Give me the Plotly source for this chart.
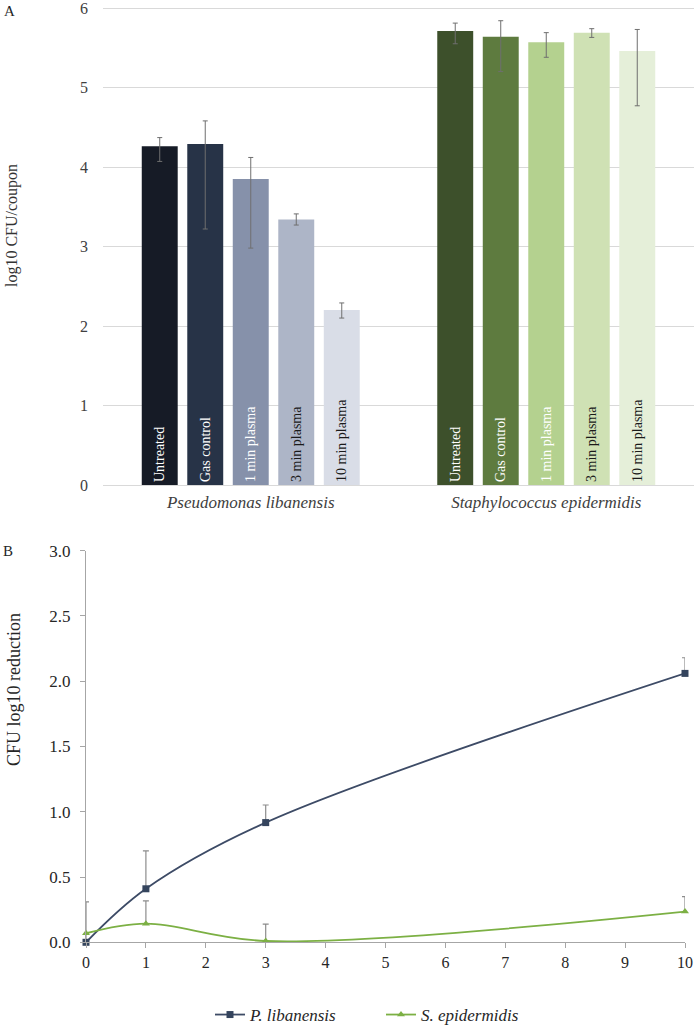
import plotly.graph_objects as go

# ---------- Panel A data ----------
species = ["Pseudomonas libanensis", "Staphylococcus epidermidis"]
treatments = ["Untreated", "Gas control", "1 min plasma", "3 min plasma", "10 min plasma"]
# mean log10 CFU/coupon per treatment: [P. libanensis, S. epidermidis]
means = {
    "Untreated":     [4.26, 5.71],
    "Gas control":   [4.29, 5.64],
    "1 min plasma":  [3.85, 5.57],
    "3 min plasma":  [3.34, 5.69],
    "10 min plasma": [2.20, 5.46],
}
err_up = {
    "Untreated":     [0.11, 0.10],
    "Gas control":   [0.29, 0.20],
    "1 min plasma":  [0.27, 0.12],
    "3 min plasma":  [0.07, 0.05],
    "10 min plasma": [0.09, 0.27],
}
err_down = {
    "Untreated":     [0.19, 0.16],
    "Gas control":   [1.07, 0.44],
    "1 min plasma":  [0.87, 0.19],
    "3 min plasma":  [0.07, 0.06],
    "10 min plasma": [0.10, 0.69],
}
bar_colors = {
    "Untreated":     ["#161b26", "#3d502b"],
    "Gas control":   ["#273347", "#5e7b3f"],
    "1 min plasma":  ["#8691aa", "#b4d18f"],
    "3 min plasma":  ["#adb5c7", "#cfe1b4"],
    "10 min plasma": ["#d9dde7", "#e5efd9"],
}
text_colors = {
    "Untreated": "#ffffff", "Gas control": "#ffffff", "1 min plasma": "#ffffff",
    "3 min plasma": "#1a1a1a", "10 min plasma": "#1a1a1a",
}

# ---------- Panel B data ----------
time_min = [0, 1, 3, 10]
plib_red = [0.0, 0.41, 0.917, 2.06]
plib_err = [0.31, 0.29, 0.135, 0.12]
sepi_red = [0.069, 0.143, 0.01, 0.235]
sepi_err = [0.0, 0.175, 0.13, 0.115]

W, H = 697, 1026
SERIF = "Liberation Serif, Times New Roman, serif"

fig = go.Figure()

for t in treatments:
    fig.add_trace(go.Bar(
        x=species, y=means[t], name=t,
        marker=dict(color=bar_colors[t], line=dict(width=0)),
        text=[t, t], textposition="inside", insidetextanchor="start",
        textangle=-90, constraintext="none",
        textfont=dict(family=SERIF, size=14, color=text_colors[t]),
        error_y=dict(type="data", symmetric=False, array=err_up[t],
                     arrayminus=err_down[t], color="#6f6f6f",
                     thickness=1, width=2.5),
        xaxis="x", yaxis="y", showlegend=False, hoverinfo="skip",
    ))

fig.add_trace(go.Scatter(
    x=time_min, y=plib_red, name="<i>P. libanensis</i>",
    mode="lines+markers", line=dict(color="#3d4b66", width=1.8, shape="spline", smoothing=1.0),
    marker=dict(symbol="square", size=7, color="#34445d"),
    error_y=dict(type="data", symmetric=False, array=plib_err,
                 arrayminus=[0] * len(plib_err), color="#8c8c8c",
                 thickness=1.2, width=3),
    xaxis="x2", yaxis="y2", cliponaxis=False,
))
fig.add_trace(go.Scatter(
    x=time_min, y=sepi_red, name="<i>S. epidermidis</i>",
    mode="lines+markers", line=dict(color="#7cb044", width=1.8, shape="spline", smoothing=1.0),
    marker=dict(symbol="triangle-up", size=7, color="#7cb044"),
    error_y=dict(type="data", symmetric=False, array=sepi_err,
                 arrayminus=[0] * len(sepi_err), color="#8c8c8c",
                 thickness=1.2, width=3),
    xaxis="x2", yaxis="y2", cliponaxis=False,
))

def px_x(p):
    return p / W

def px_y(p):
    return 1 - p / H

# panel A: 0 at y=485 px, 79.5 px per unit; range slightly above 6 so the 6 gridline shows
A_TOP = 6.03
a_top_px = 485 - 79.5 * A_TOP

def ann(text, x, y, size, color="#262626", angle=0):
    return dict(text=text, x=px_x(x), y=px_y(y), xref="paper", yref="paper",
                xanchor="center", yanchor="middle", textangle=angle, showarrow=False,
                font=dict(family=SERIF, size=size, color=color))

fig.update_layout(
    width=W, height=H,
    margin=dict(l=0, r=0, t=0, b=0, autoexpand=False),
    paper_bgcolor="white", plot_bgcolor="white",
    barmode="group", bargap=0.23, bargroupgap=0.21,
    font=dict(family=SERIF, color="#404040"),
    xaxis=dict(
        domain=[px_x(103), px_x(694)], anchor="y", automargin=False,
        tickvals=species,
        ticktext=["<i>Pseudomonas libanensis</i>", "<i>Staphylococcus epidermidis</i>"],
        tickfont=dict(family=SERIF, size=17, color="#404040"),
        showline=False, showgrid=False, ticks="", ticklabelstandoff=5,
        ticklabeloverflow="allow",
    ),
    yaxis=dict(
        domain=[px_y(485), px_y(a_top_px)], anchor="x", automargin=False,
        range=[0, A_TOP], tickvals=[0, 1, 2, 3, 4, 5, 6], showgrid=True,
        gridcolor="#d9d9d9", gridwidth=1,
        zeroline=True, zerolinecolor="#d9d9d9", zerolinewidth=1,
        showline=False, ticks="", ticklabelstandoff=14, ticklabeloverflow="allow",
        tickfont=dict(family=SERIF, size=16, color="#404040"),
    ),
    xaxis2=dict(
        domain=[px_x(86), px_x(685)], anchor="y2", automargin=False,
        range=[0, 10], dtick=1, showgrid=False, zeroline=False,
        showline=True, linecolor="#a6a6a6", linewidth=1.2,
        ticks="outside", ticklen=5, tickcolor="#a6a6a6", ticklabeloverflow="allow",
        tickfont=dict(family=SERIF, size=16, color="#262626"),
    ),
    yaxis2=dict(
        domain=[px_y(942.3), px_y(550.7)], anchor="x2", automargin=False,
        range=[0, 3], dtick=0.5, tickformat=".1f", showgrid=False, zeroline=False,
        showline=True, linecolor="#a6a6a6", linewidth=1.2,
        ticks="outside", ticklen=5, tickcolor="#a6a6a6", ticklabelstandoff=6,
        ticklabeloverflow="allow",
        tickfont=dict(family=SERIF, size=17, color="#262626"),
    ),
    legend=dict(
        orientation="h", x=px_x(210), xanchor="left", y=px_y(1015), yanchor="middle",
        font=dict(family=SERIF, size=17, color="#262626"),
        itemwidth=30, entrywidth=126, entrywidthmode="pixels",
        bgcolor="rgba(0,0,0,0)", traceorder="normal",
    ),
    annotations=[
        ann("A", 9, 11, 15),
        ann("B", 8, 551, 15),
        ann("log10 CFU/coupon", 12, 226, 16, "#333333", -90),
        ann("CFU log10 reduction", 14, 690, 18, "#262626", -90),
    ],
)

fig.write_html(
    "out.html",
    config={"displayModeBar": False},
    post_script="document.body.style.margin='0';document.body.style.padding='0';"
                "document.documentElement.style.overflow='hidden';",
)
